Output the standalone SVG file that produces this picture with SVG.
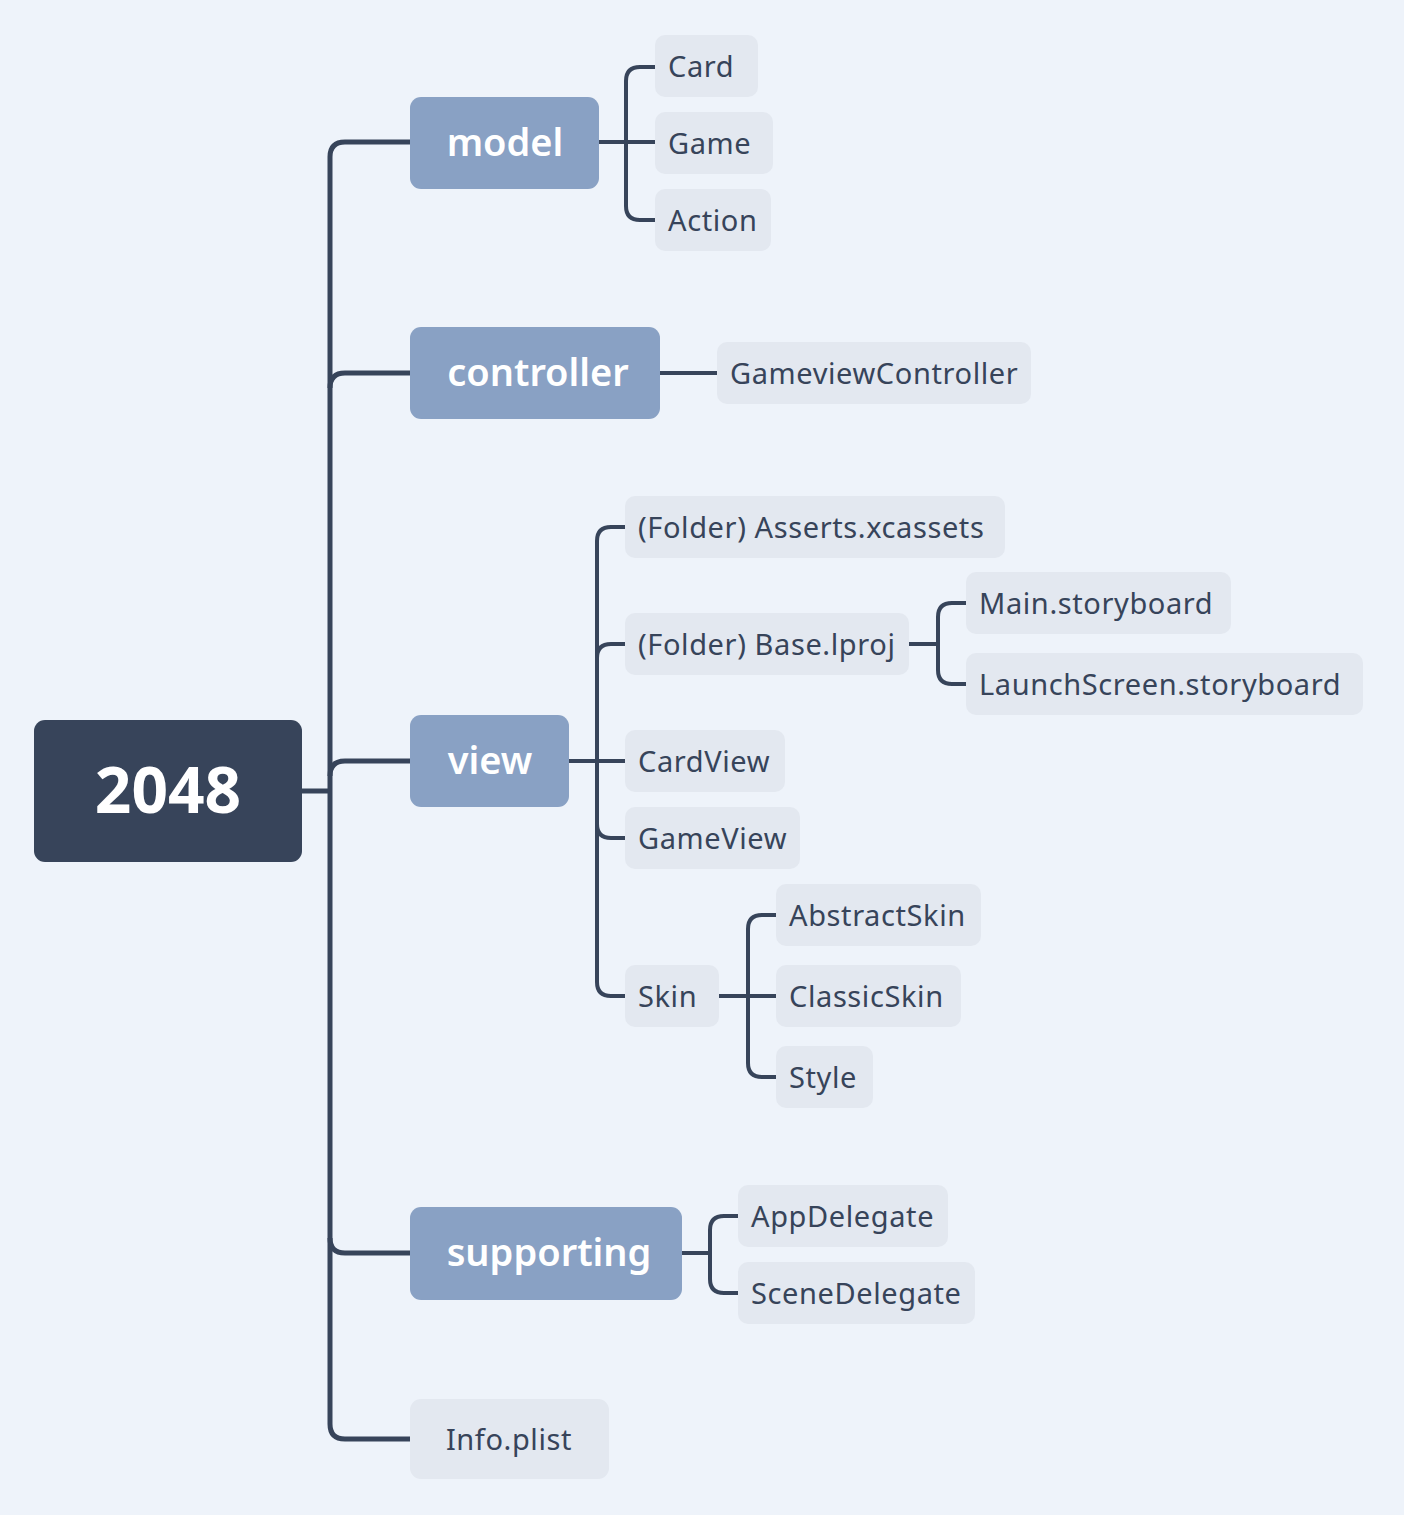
<svg xmlns="http://www.w3.org/2000/svg" width="1404" height="1515" viewBox="0 0 1404 1515">
<style>
.bg{fill:#EEF3FA}
.root{fill:#37445A}
.main{fill:#89A1C4}
.leaf{fill:#E3E8F0}
.c{fill:none;stroke:#37445A;stroke-linecap:butt;stroke-linejoin:round}
.c1{stroke-width:5}
.c2{stroke-width:4}
.tr{font-family:"Noto Sans","Open Sans",sans-serif;font-weight:700;font-size:64px;fill:#FFFFFF;text-anchor:middle}
.tm{font-family:"Noto Sans","Open Sans",sans-serif;font-weight:600;font-size:38px;fill:#FFFFFF;text-anchor:middle}
.tl{font-family:"Noto Sans","Open Sans",sans-serif;font-weight:400;font-size:29px;letter-spacing:0.6px;fill:#37445A}
.ti{font-family:"Noto Sans","Open Sans",sans-serif;font-weight:400;font-size:29px;letter-spacing:0.6px;fill:#37445A;text-anchor:middle}
</style>
<rect class="bg" x="0" y="0" width="1404" height="1515"/>
<g id="connectors">
<path class="c c1" d="M302,791 H330"/>
<path class="c c1" d="M330,791 V157 Q330,142 345,142 H410"/>
<path class="c c1" d="M330,388 Q330,373 345,373 H410"/>
<path class="c c1" d="M330,776 Q330,761 345,761 H410"/>
<path class="c c1" d="M330,791 V1424 Q330,1439 345,1439 H410"/>
<path class="c c1" d="M330,1238 Q330,1253 345,1253 H410"/>
<path class="c c2" d="M599,142 H655"/>
<path class="c c2" d="M655,67 H640 Q626,67 626,81 V206 Q626,220 640,220 H655"/>
<path class="c c2" d="M660,373 H717"/>
<path class="c c2" d="M569,761 H625"/>
<path class="c c2" d="M625,527 H611 Q597,527 597,541 V982 Q597,996 611,996 H625"/>
<path class="c c2" d="M597,658 Q597,644 611,644 H625"/>
<path class="c c2" d="M597,824 Q597,838 611,838 H625"/>
<path class="c c2" d="M909,644 H938"/>
<path class="c c2" d="M966,603 H952 Q938,603 938,617 V670 Q938,684 952,684 H966"/>
<path class="c c2" d="M719,996 H776"/>
<path class="c c2" d="M776,915 H762 Q748,915 748,929 V1063 Q748,1077 762,1077 H776"/>
<path class="c c2" d="M682,1253 H710"/>
<path class="c c2" d="M738,1216 H724 Q710,1216 710,1230 V1279 Q710,1293 724,1293 H738"/>
</g>
<g id="n-root"><rect class="root" x="34" y="720" width="268" height="142" rx="11"/><text class="tr" x="168" y="813">2048</text></g>
<g id="n-model"><rect class="main" x="410" y="97" width="189" height="92" rx="11"/><text class="tm" x="505" y="156">model</text></g>
<g id="n-controller"><rect class="main" x="410" y="327" width="250" height="92" rx="11"/><text class="tm" x="538" y="386">controller</text></g>
<g id="n-view"><rect class="main" x="410" y="715" width="159" height="92" rx="11"/><text class="tm" x="490" y="774">view</text></g>
<g id="n-supporting"><rect class="main" x="410" y="1207" width="272" height="93" rx="11"/><text class="tm" x="549" y="1266">supporting</text></g>
<g id="n-info"><rect class="leaf" x="410" y="1399" width="199" height="80" rx="11"/><text class="ti" x="509" y="1450">Info.plist</text></g>
<g id="n-card"><rect class="leaf" x="655" y="35" width="103" height="62" rx="10"/><text class="tl" x="668" y="77">Card</text></g>
<g id="n-game"><rect class="leaf" x="655" y="112" width="118" height="62" rx="10"/><text class="tl" x="668" y="154">Game</text></g>
<g id="n-action"><rect class="leaf" x="655" y="189" width="116" height="62" rx="10"/><text class="tl" x="668" y="231">Action</text></g>
<g id="n-gvc"><rect class="leaf" x="717" y="342" width="314" height="62" rx="10"/><text class="tl" x="730" y="384">GameviewController</text></g>
<g id="n-asserts"><rect class="leaf" x="625" y="496" width="380" height="62" rx="10"/><text class="tl" x="638" y="538">(Folder) Asserts.xcassets</text></g>
<g id="n-base"><rect class="leaf" x="625" y="613" width="284" height="62" rx="10"/><text class="tl" x="638" y="655">(Folder) Base.lproj</text></g>
<g id="n-main"><rect class="leaf" x="966" y="572" width="265" height="62" rx="10"/><text class="tl" x="979" y="614">Main.storyboard</text></g>
<g id="n-launch"><rect class="leaf" x="966" y="653" width="397" height="62" rx="10"/><text class="tl" x="979" y="695">LaunchScreen.storyboard</text></g>
<g id="n-cardview"><rect class="leaf" x="625" y="730" width="160" height="62" rx="10"/><text class="tl" x="638" y="772">CardView</text></g>
<g id="n-gameview"><rect class="leaf" x="625" y="807" width="175" height="62" rx="10"/><text class="tl" x="638" y="849">GameView</text></g>
<g id="n-skin"><rect class="leaf" x="625" y="965" width="94" height="62" rx="10"/><text class="tl" x="638" y="1007">Skin</text></g>
<g id="n-abstract"><rect class="leaf" x="776" y="884" width="205" height="62" rx="10"/><text class="tl" x="789" y="926">AbstractSkin</text></g>
<g id="n-classic"><rect class="leaf" x="776" y="965" width="185" height="62" rx="10"/><text class="tl" x="789" y="1007">ClassicSkin</text></g>
<g id="n-style"><rect class="leaf" x="776" y="1046" width="97" height="62" rx="10"/><text class="tl" x="789" y="1088">Style</text></g>
<g id="n-app"><rect class="leaf" x="738" y="1185" width="210" height="62" rx="10"/><text class="tl" x="751" y="1227">AppDelegate</text></g>
<g id="n-scene"><rect class="leaf" x="738" y="1262" width="237" height="62" rx="10"/><text class="tl" x="751" y="1304">SceneDelegate</text></g>
</svg>
